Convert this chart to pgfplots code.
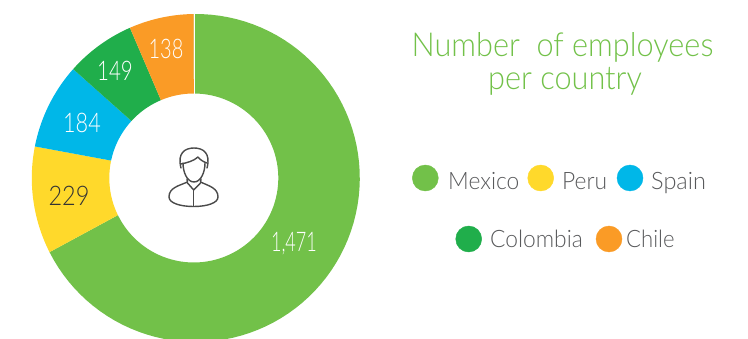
\documentclass[border=0pt]{standalone}
\usepackage{pgfplots}
\pgfplotsset{compat=1.18}
\usepackage{fontspec}
\setmainfont{Lato Light}
\definecolor{cMexico}{HTML}{72C149}
\definecolor{cPeru}{HTML}{FFD92B}
\definecolor{cSpain}{HTML}{00B7E8}
\definecolor{cColombia}{HTML}{20AE4B}
\definecolor{cChile}{HTML}{FA9B26}
\definecolor{legendtext}{HTML}{58595B}
\definecolor{icon}{HTML}{4A4A4A}

% Ring geometry, in plot units, and the sum of all employees
\def\cx{195.8}\def\cxin{193.8}\def\cy{178}\def\rout{164}\def\rin{84.5}\def\total{2171}
\gdef\cum{0}

% One ring segment per country: arguments are the value and the colour.
% Segments run clockwise from twelve o'clock.
\newcount\stepi
\newcommand{\ringsegment}[2]{%
  \pgfmathsetmacro\aA{90-(\cum/\total)*360}%
  \pgfmathsetmacro\newcum{\cum+#1}%
  \pgfmathsetmacro\aB{90-(\newcum/\total)*360}%
  \pgfmathsetmacro\aStep{(\aB-\aA)/80}%
  \def\pts{}%
  \stepi=0
  \loop
    \pgfmathsetmacro\ang{\aA+0.8+\aStep*\the\stepi}%
    \pgfmathsetmacro\px{\cx+\rout*cos(\ang)}%
    \pgfmathsetmacro\py{\cy-\rout*sin(\ang)}%
    \edef\pts{\pts(\px,\py) }%
    \advance\stepi by 1
  \ifnum\stepi<81 \repeat
  \stepi=80
  \loop
    \pgfmathsetmacro\ang{\aA+\aStep*\the\stepi}%
    \pgfmathsetmacro\px{\cxin+\rin*cos(\ang)}%
    \pgfmathsetmacro\py{\cy-\rin*sin(\ang)}%
    \edef\pts{\pts(\px,\py) }%
    \advance\stepi by -1
  \ifnum\stepi>-1 \repeat
  \edef\doplot{\noexpand\addplot[fill=#2,draw=none,forget plot] coordinates {\pts};}%
  \doplot
  \xdef\cum{\newcum}%
}
% Condensed light digits for the values inside the ring
\newcommand{\val}[2][0.78]{\fontsize{27}{27}\selectfont\scalebox{#1}[1]{#2}}
\newcommand{\keyname}[2][0.95]{\scalebox{#1}[1]{#2}}

\begin{document}
\begin{tikzpicture}
\path[use as bounding box] (0,0) rectangle (748pt,339pt);
\begin{axis}[
  at={(0,0)}, anchor=south west,
  scale only axis, width=748pt, height=339pt,
  xmin=0, xmax=748, ymin=0, ymax=339,
  y dir=reverse, axis lines=none, clip=true,
]
% Employees per country
\ringsegment{1471}{cMexico}
\ringsegment{229}{cPeru}
\ringsegment{184}{cSpain}
\ringsegment{149}{cColombia}
\ringsegment{138}{cChile}

% Thin gap where the ring closes at the top
\addplot[white,line width=1.6pt,forget plot] coordinates {(194.3,12) (194.3,95)};

% Segment values
\node[white] at (294,244) {\val[0.67]{1,471}};
\node[black!80] at (69,196) {\val[0.87]{229}};
\node[white] at (82,123) {\val[0.8]{184}};
\node[white] at (115,71) {\val[0.76]{149}};
\node[white] at (166,49) {\val[0.74]{138}};

% Person icon in the middle of the ring
\begin{scope}[icon,line width=1.4pt,line join=round,line cap=round]
  \draw (181,168) .. controls (177,153) and (185,148) .. (194,148) .. controls (203,148) and (211,153) .. (207,168);
  \draw (181,164) .. controls (186,163) and (194,161) .. (198,157) .. controls (200,160) and (204,162) .. (207,163);
  \draw (183,163) .. controls (183,172) and (187,182) .. (194,182) .. controls (201,182) and (205,172) .. (205,163);
  \draw (187,179) -- (187.5,183) -- (193.7,190) -- (200.5,183) -- (201,179);
  \draw (187.5,182) .. controls (178,186) and (169,188) .. (169,197)
        .. controls (169,203) and (180,206.5) .. (193.7,206.5)
        .. controls (207,206.5) and (218,203) .. (218,197)
        .. controls (218,188) and (209,186) .. (200.5,182);
  \draw (193.7,190) -- (193.7,206);
\end{scope}

% Title
\node[cMexico,font=\fontsize{33}{33}\selectfont,anchor=base] at (562.5,57) {\scalebox{0.93}[1]{Number\ \ of employees}};
\node[cMexico,font=\fontsize{33}{33}\selectfont,anchor=base] at (565,90) {\scalebox{0.93}[1]{per country}};

% Key: coloured dots and country names
\addplot[cMexico,only marks,mark=*,mark size=13pt] coordinates {(425.3,178)};
\addplot[cPeru,only marks,mark=*,mark size=13pt] coordinates {(540.7,178)};
\addplot[cSpain,only marks,mark=*,mark size=13pt] coordinates {(630,178)};
\addplot[cColombia,only marks,mark=*,mark size=13pt] coordinates {(468.7,239)};
\addplot[cChile,only marks,mark=*,mark size=13pt] coordinates {(609,239)};
\begin{scope}[every node/.style={legendtext,anchor=base west,inner sep=0pt,font=\fontsize{24}{24}\selectfont}]
  \node at (448,190) {\keyname{Mexico}};
  \node at (562,190) {\keyname{Peru}};
  \node at (651,190) {\keyname[0.98]{Spain}};
  \node at (490,248) {\keyname{Colombia}};
  \node at (626,248) {\keyname[0.92]{Chile}};
\end{scope}
\end{axis}
\end{tikzpicture}
\end{document}
